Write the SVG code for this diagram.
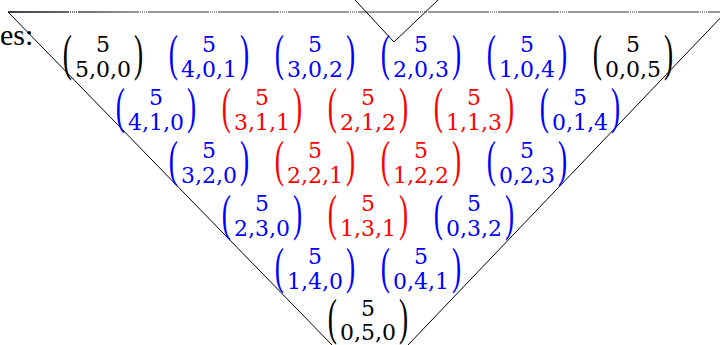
<svg xmlns="http://www.w3.org/2000/svg" width="720" height="345" viewBox="0 0 720 345">
<defs>
<linearGradient id="fade" gradientUnits="userSpaceOnUse" x1="8" y1="0" x2="140" y2="0">
<stop offset="0" stop-color="#000"/>
<stop offset="1" stop-color="#777"/>
</linearGradient>
</defs>
<style>
text{font-family:"Liberation Serif","Times New Roman",serif;}
.t,.b{font-family:"DejaVu Serif","Liberation Serif",serif;font-size:22px;text-anchor:middle;}
.p{font-size:50px;}
.k{fill:#000;}
.u{fill:#0000ff;}
.r{fill:#ff0000;}
.edge{stroke:#000;stroke-width:1;fill:none;}
</style>
<rect width="720" height="345" fill="#fff"/>
<text x="0" y="45" style="font-size:30px" fill="#000">es:</text>
<g id="connectors">
<line x1="8" y1="12" x2="720" y2="12" stroke="url(#fade)" stroke-width="1.3" stroke-dasharray="60 0 1 1 1 1 1 1 1 1 1 1"/>
<line class="edge" x1="8" y1="12" x2="332" y2="345"/>
<line class="edge" x1="726" y1="12" x2="408" y2="345"/>
<polyline class="edge" stroke-width="1.4" points="355,0 394,42 438,0"/>
</g>
<g id="n500" class="k" transform="translate(103,51.5)"><text class="p" transform="translate(-40.3,18.5) scale(0.55,1)">(</text><text class="t">5</text><text class="b" y="25" textLength="56" lengthAdjust="spacing">5,0,0</text><text class="p" transform="translate(31,18.5) scale(0.55,1)">)</text></g>
<g id="n401" class="u" transform="translate(209,51.5)"><text class="p" transform="translate(-40.3,18.5) scale(0.55,1)">(</text><text class="t">5</text><text class="b" y="25" textLength="56" lengthAdjust="spacing">4,0,1</text><text class="p" transform="translate(31,18.5) scale(0.55,1)">)</text></g>
<g id="n302" class="u" transform="translate(315,51.5)"><text class="p" transform="translate(-40.3,18.5) scale(0.55,1)">(</text><text class="t">5</text><text class="b" y="25" textLength="56" lengthAdjust="spacing">3,0,2</text><text class="p" transform="translate(31,18.5) scale(0.55,1)">)</text></g>
<g id="n203" class="u" transform="translate(421,51.5)"><text class="p" transform="translate(-40.3,18.5) scale(0.55,1)">(</text><text class="t">5</text><text class="b" y="25" textLength="56" lengthAdjust="spacing">2,0,3</text><text class="p" transform="translate(31,18.5) scale(0.55,1)">)</text></g>
<g id="n104" class="u" transform="translate(527,51.5)"><text class="p" transform="translate(-40.3,18.5) scale(0.55,1)">(</text><text class="t">5</text><text class="b" y="25" textLength="56" lengthAdjust="spacing">1,0,4</text><text class="p" transform="translate(31,18.5) scale(0.55,1)">)</text></g>
<g id="n005" class="k" transform="translate(633,51.5)"><text class="p" transform="translate(-40.3,18.5) scale(0.55,1)">(</text><text class="t">5</text><text class="b" y="25" textLength="56" lengthAdjust="spacing">0,0,5</text><text class="p" transform="translate(31,18.5) scale(0.55,1)">)</text></g>
<g id="n410" class="u" transform="translate(156,104.7)"><text class="p" transform="translate(-40.3,18.5) scale(0.55,1)">(</text><text class="t">5</text><text class="b" y="25" textLength="56" lengthAdjust="spacing">4,1,0</text><text class="p" transform="translate(31,18.5) scale(0.55,1)">)</text></g>
<g id="n311" class="r" transform="translate(262,104.7)"><text class="p" transform="translate(-40.3,18.5) scale(0.55,1)">(</text><text class="t">5</text><text class="b" y="25" textLength="56" lengthAdjust="spacing">3,1,1</text><text class="p" transform="translate(31,18.5) scale(0.55,1)">)</text></g>
<g id="n212" class="r" transform="translate(368,104.7)"><text class="p" transform="translate(-40.3,18.5) scale(0.55,1)">(</text><text class="t">5</text><text class="b" y="25" textLength="56" lengthAdjust="spacing">2,1,2</text><text class="p" transform="translate(31,18.5) scale(0.55,1)">)</text></g>
<g id="n113" class="r" transform="translate(474,104.7)"><text class="p" transform="translate(-40.3,18.5) scale(0.55,1)">(</text><text class="t">5</text><text class="b" y="25" textLength="56" lengthAdjust="spacing">1,1,3</text><text class="p" transform="translate(31,18.5) scale(0.55,1)">)</text></g>
<g id="n014" class="u" transform="translate(580,104.7)"><text class="p" transform="translate(-40.3,18.5) scale(0.55,1)">(</text><text class="t">5</text><text class="b" y="25" textLength="56" lengthAdjust="spacing">0,1,4</text><text class="p" transform="translate(31,18.5) scale(0.55,1)">)</text></g>
<g id="n320" class="u" transform="translate(209,157.9)"><text class="p" transform="translate(-40.3,18.5) scale(0.55,1)">(</text><text class="t">5</text><text class="b" y="25" textLength="56" lengthAdjust="spacing">3,2,0</text><text class="p" transform="translate(31,18.5) scale(0.55,1)">)</text></g>
<g id="n221" class="r" transform="translate(315,157.9)"><text class="p" transform="translate(-40.3,18.5) scale(0.55,1)">(</text><text class="t">5</text><text class="b" y="25" textLength="56" lengthAdjust="spacing">2,2,1</text><text class="p" transform="translate(31,18.5) scale(0.55,1)">)</text></g>
<g id="n122" class="r" transform="translate(421,157.9)"><text class="p" transform="translate(-40.3,18.5) scale(0.55,1)">(</text><text class="t">5</text><text class="b" y="25" textLength="56" lengthAdjust="spacing">1,2,2</text><text class="p" transform="translate(31,18.5) scale(0.55,1)">)</text></g>
<g id="n023" class="u" transform="translate(527,157.9)"><text class="p" transform="translate(-40.3,18.5) scale(0.55,1)">(</text><text class="t">5</text><text class="b" y="25" textLength="56" lengthAdjust="spacing">0,2,3</text><text class="p" transform="translate(31,18.5) scale(0.55,1)">)</text></g>
<g id="n230" class="u" transform="translate(262,211.1)"><text class="p" transform="translate(-40.3,18.5) scale(0.55,1)">(</text><text class="t">5</text><text class="b" y="25" textLength="56" lengthAdjust="spacing">2,3,0</text><text class="p" transform="translate(31,18.5) scale(0.55,1)">)</text></g>
<g id="n131" class="r" transform="translate(368,211.1)"><text class="p" transform="translate(-40.3,18.5) scale(0.55,1)">(</text><text class="t">5</text><text class="b" y="25" textLength="56" lengthAdjust="spacing">1,3,1</text><text class="p" transform="translate(31,18.5) scale(0.55,1)">)</text></g>
<g id="n032" class="u" transform="translate(474,211.1)"><text class="p" transform="translate(-40.3,18.5) scale(0.55,1)">(</text><text class="t">5</text><text class="b" y="25" textLength="56" lengthAdjust="spacing">0,3,2</text><text class="p" transform="translate(31,18.5) scale(0.55,1)">)</text></g>
<g id="n140" class="u" transform="translate(315,264.3)"><text class="p" transform="translate(-40.3,18.5) scale(0.55,1)">(</text><text class="t">5</text><text class="b" y="25" textLength="56" lengthAdjust="spacing">1,4,0</text><text class="p" transform="translate(31,18.5) scale(0.55,1)">)</text></g>
<g id="n041" class="u" transform="translate(421,264.3)"><text class="p" transform="translate(-40.3,18.5) scale(0.55,1)">(</text><text class="t">5</text><text class="b" y="25" textLength="56" lengthAdjust="spacing">0,4,1</text><text class="p" transform="translate(31,18.5) scale(0.55,1)">)</text></g>
<g id="n050" class="k" transform="translate(368,316)"><text class="p" transform="translate(-40.3,18) scale(0.55,1)">(</text><text class="t">5</text><text class="b" y="24" textLength="56" lengthAdjust="spacing">0,5,0</text><text class="p" transform="translate(31,18) scale(0.55,1)">)</text></g>
</svg>
